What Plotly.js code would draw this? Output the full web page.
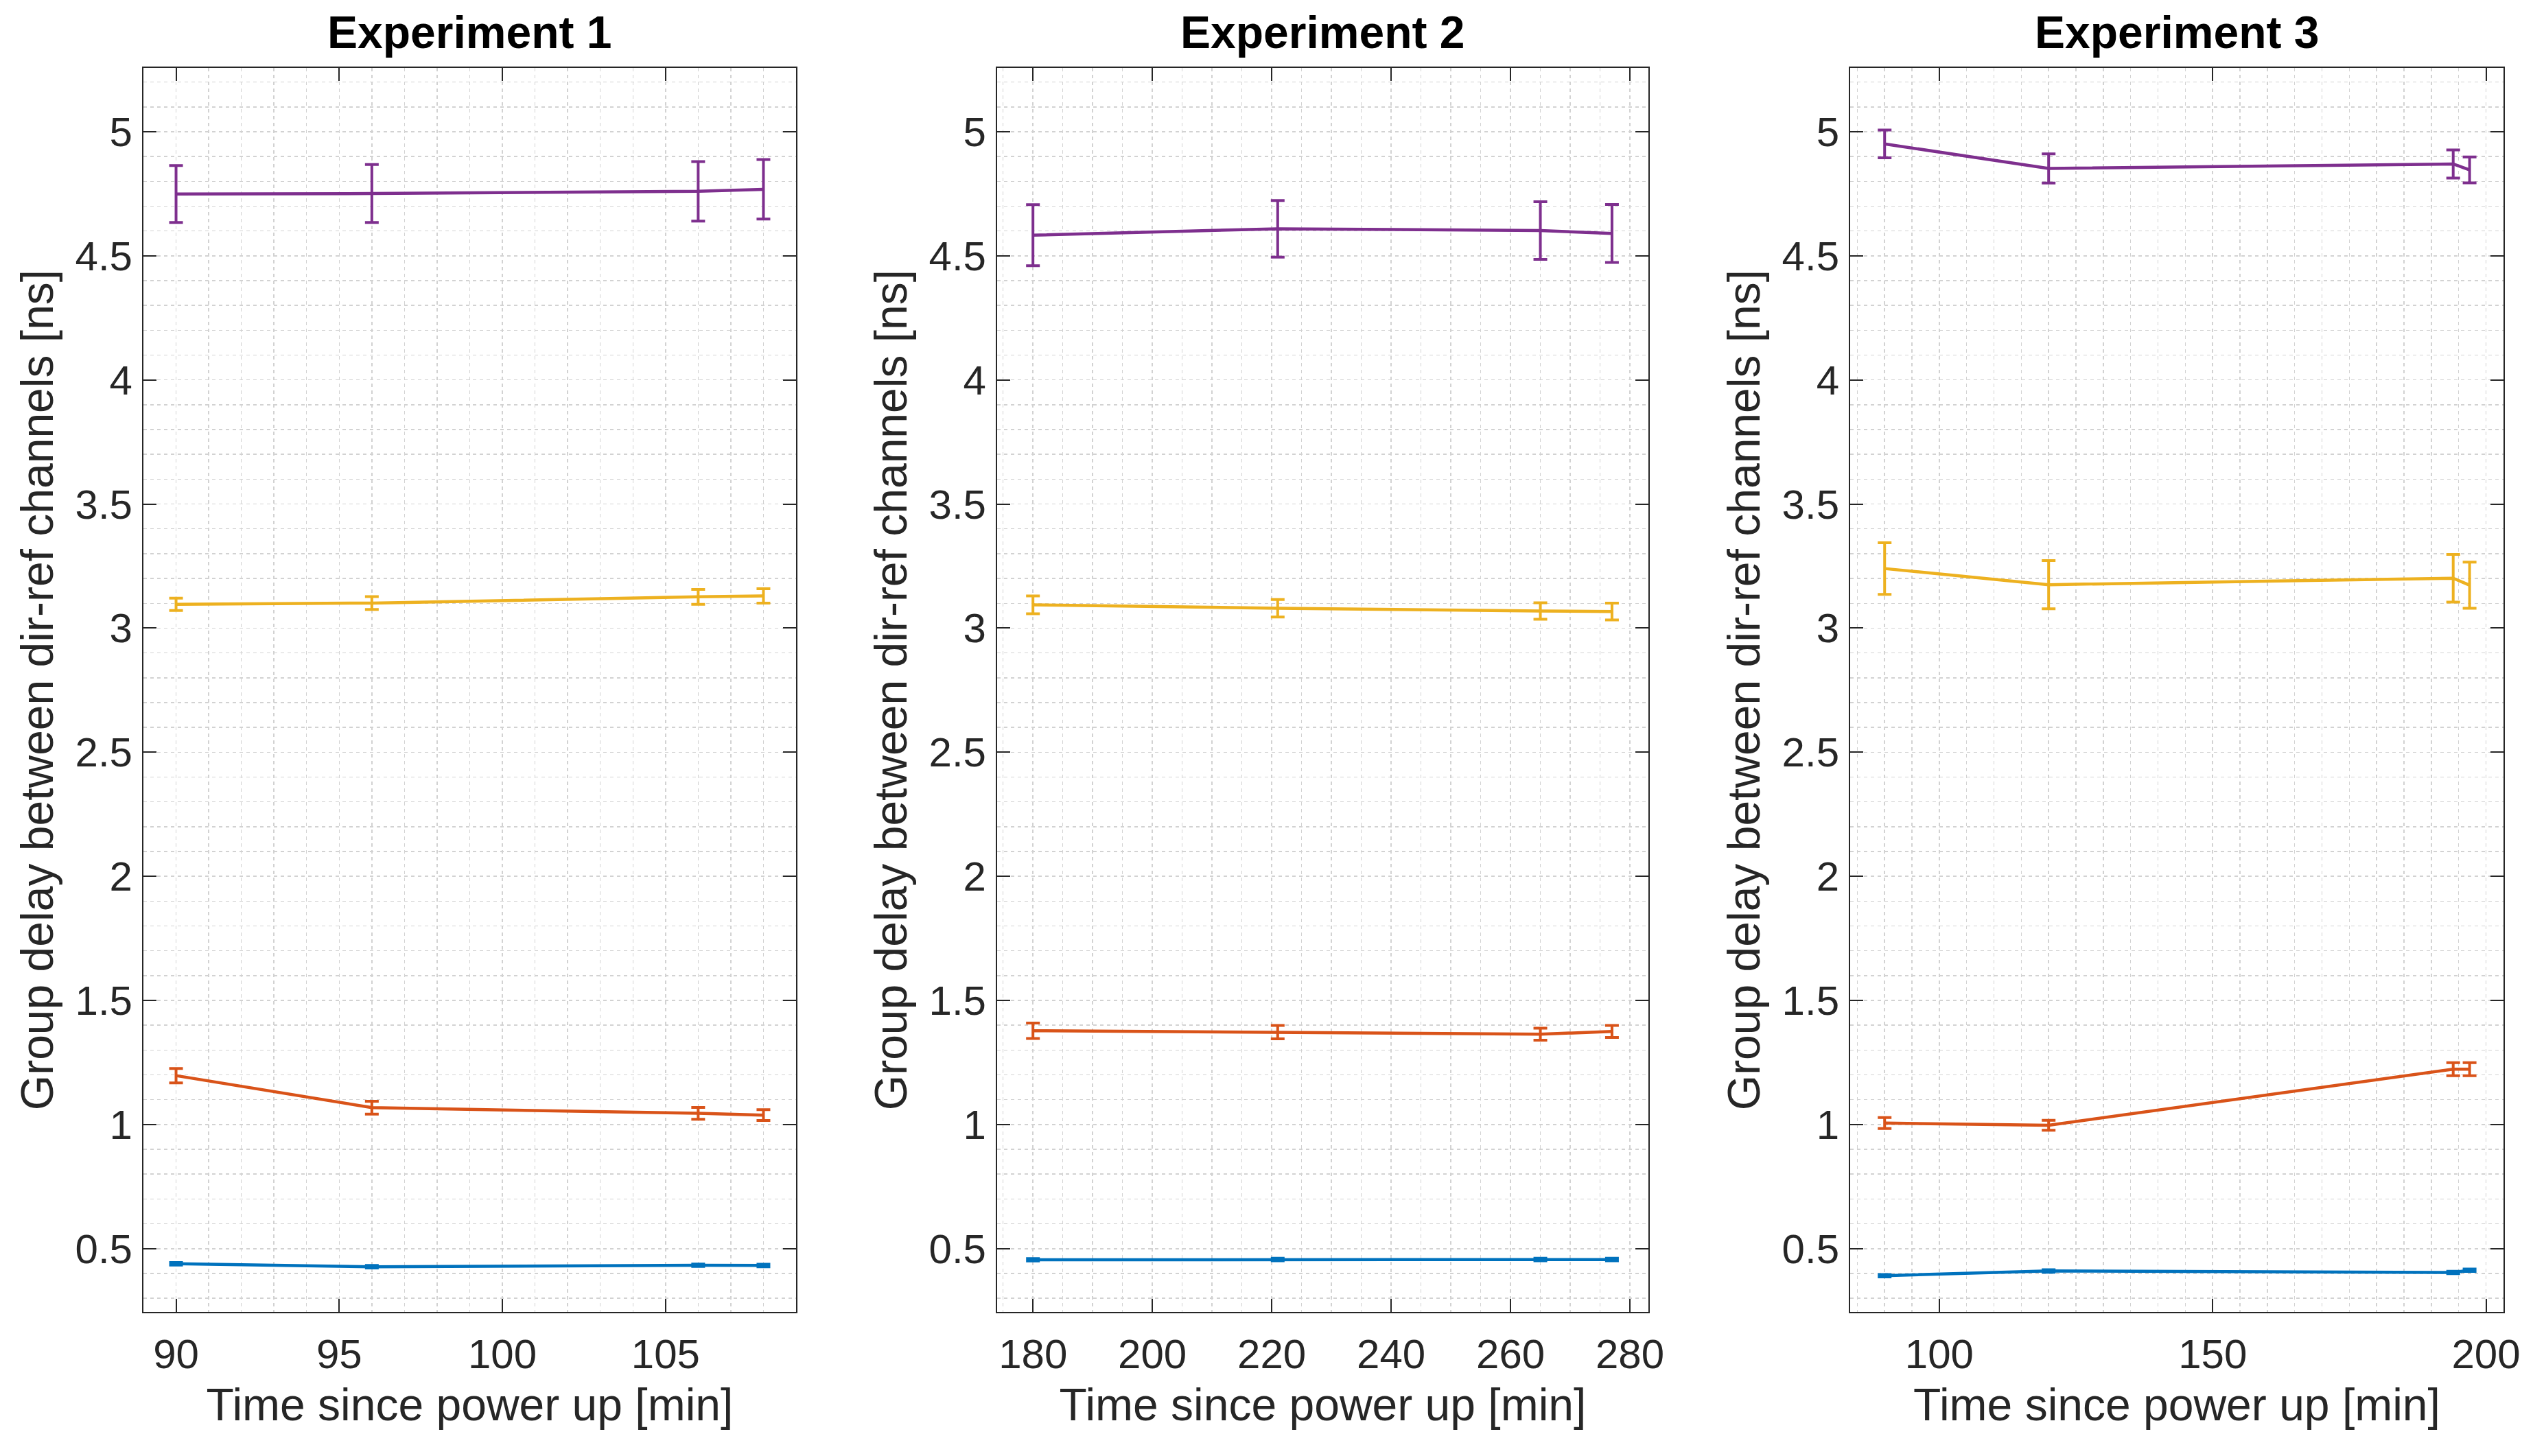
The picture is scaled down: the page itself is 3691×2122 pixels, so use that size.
<!DOCTYPE html>
<html>
<head>
<meta charset="utf-8">
<script src="https://cdn.plot.ly/plotly-3.0.1.min.js"></script>
<style>
html,body{margin:0;padding:0;background:#fff;}
#chart{width:3691px;height:2122px;}
</style>
</head>
<body>
<div id="chart"></div>
<script>
// ---------- data ----------
const experimentTitles = ["Experiment 1", "Experiment 2", "Experiment 3"];
const xAxisTitle = "Time since power up [min]";
const yAxisTitle = "Group delay between dir-ref channels [ns]";

const exp1Time = [90, 96, 106, 108];
const exp2Time = [180, 221, 265, 277];
const exp3Time = [90, 120, 194, 197];

const exp1Blue   = [0.439, 0.427, 0.433, 0.432];
const exp1BlueErr = [0.005, 0.005, 0.005, 0.005];
const exp1Orange = [1.197, 1.068, 1.045, 1.038];
const exp1OrangeErr = [0.029, 0.026, 0.024, 0.022];
const exp1Yellow = [3.096, 3.101, 3.126, 3.130];
const exp1YellowErr = [0.025, 0.026, 0.030, 0.029];
const exp1Purple = [4.749, 4.751, 4.760, 4.768];
const exp1PurpleErr = [0.115, 0.117, 0.120, 0.120];

const exp2Blue   = [0.455, 0.456, 0.456, 0.456];
const exp2BlueErr = [0.005, 0.005, 0.005, 0.005];
const exp2Orange = [1.378, 1.372, 1.364, 1.375];
const exp2OrangeErr = [0.031, 0.027, 0.024, 0.024];
const exp2Yellow = [3.094, 3.080, 3.069, 3.067];
const exp2YellowErr = [0.036, 0.035, 0.033, 0.034];
const exp2Purple = [4.583, 4.609, 4.602, 4.590];
const exp2PurpleErr = [0.123, 0.114, 0.116, 0.117];

const exp3Blue   = [0.391, 0.410, 0.404, 0.413];
const exp3BlueErr = [0.005, 0.005, 0.005, 0.005];
const exp3Orange = [1.006, 0.997, 1.223, 1.223];
const exp3OrangeErr = [0.022, 0.020, 0.026, 0.026];
const exp3Yellow = [3.240, 3.175, 3.201, 3.173];
const exp3YellowErr = [0.104, 0.097, 0.096, 0.093];
const exp3Purple = [4.951, 4.852, 4.870, 4.846];
const exp3PurpleErr = [0.056, 0.059, 0.057, 0.052];

const yTickVals = [0.5, 1, 1.5, 2, 2.5, 3, 3.5, 4, 4.5, 5];
const yTickText = ["0.5", "1", "1.5", "2", "2.5", "3", "3.5", "4", "4.5", "5"];
const exp1XTicks = [90, 95, 100, 105];
const exp2XTicks = [180, 200, 220, 240, 260, 280];
const exp3XTicks = [100, 150, 200];

// ---------- styling ----------
const seriesColors = ["#0072BD", "#D95319", "#EDB120", "#7E2F8E"];
const FONT = "Liberation Sans, Arial, Helvetica, sans-serif";
const AX = "#262626";
const GRID = "#d2d2d2";

const experiments = [
  {time: exp1Time, series: [[exp1Blue, exp1BlueErr], [exp1Orange, exp1OrangeErr], [exp1Yellow, exp1YellowErr], [exp1Purple, exp1PurpleErr]]},
  {time: exp2Time, series: [[exp2Blue, exp2BlueErr], [exp2Orange, exp2OrangeErr], [exp2Yellow, exp2YellowErr], [exp2Purple, exp2PurpleErr]]},
  {time: exp3Time, series: [[exp3Blue, exp3BlueErr], [exp3Orange, exp3OrangeErr], [exp3Yellow, exp3YellowErr], [exp3Purple, exp3PurpleErr]]}
];

const traces = [];
experiments.forEach((ex, i) => {
  const suffix = i === 0 ? "" : String(i + 1);
  ex.series.forEach((s, k) => {
    traces.push({
      type: "scatter", mode: "lines",
      x: ex.time, y: s[0],
      xaxis: "x" + suffix, yaxis: "y" + suffix,
      line: {color: seriesColors[k], width: 4.5},
      error_y: {type: "data", array: s[1], visible: true, color: seriesColors[k], thickness: 4, width: 10},
      showlegend: false, hoverinfo: "skip"
    });
  });
});

const xDomains = [[0.05662, 0.31428], [0.39366, 0.65077], [0.73043, 0.98835]];
const yDomain = [0.09896, 0.95334];
const xRanges = [[89, 109], [174, 283.1], [83.7, 203.2]];
const xTickSets = [exp1XTicks, exp2XTicks, exp3XTicks];
const xMinor = [1, 5, 5];

function baseAxis() {
  return {
    showline: true, linecolor: AX, linewidth: 2, mirror: "ticks",
    ticks: "inside", ticklen: 19, tickwidth: 2, tickcolor: AX,
    tickfont: {family: FONT, size: 60, color: AX},
    showgrid: true, gridcolor: GRID, gridwidth: 1.5, griddash: "5px,5px",
    zeroline: false, fixedrange: true
  };
}

const layout = {
  width: 3691, height: 2122,
  margin: {l: 0, r: 0, t: 0, b: 0},
  paper_bgcolor: "#ffffff", plot_bgcolor: "#ffffff",
  showlegend: false,
  annotations: []
};

for (let i = 0; i < 3; i++) {
  const suffix = i === 0 ? "" : String(i + 1);
  const xa = Object.assign(baseAxis(), {
    domain: xDomains[i], range: xRanges[i], anchor: "y" + suffix,
    tickmode: "array", tickvals: xTickSets[i], ticktext: xTickSets[i].map(String),
    minor: {dtick: xMinor[i], tick0: 0, showgrid: true, gridcolor: GRID, gridwidth: 1.5, griddash: "5px,5px", ticks: ""},
    ticklabelstandoff: 8,
    title: {text: xAxisTitle, font: {family: FONT, size: 66, color: AX}, standoff: 18}
  });
  const ya = Object.assign(baseAxis(), {
    domain: yDomain, range: [0.245, 5.257], anchor: "x" + suffix,
    tickmode: "array", tickvals: yTickVals, ticktext: yTickText,
    minor: {dtick: 0.1, tick0: 0, showgrid: true, gridcolor: GRID, gridwidth: 1.5, griddash: "5px,5px", ticks: ""},
    ticklabelstandoff: 2,
    title: {text: yAxisTitle, font: {family: FONT, size: 66, color: AX}, standoff: 10}
  });
  layout["xaxis" + suffix] = xa;
  layout["yaxis" + suffix] = ya;
  layout.annotations.push({
    text: "<b>" + experimentTitles[i] + "</b>",
    xref: "paper", yref: "paper",
    x: (xDomains[i][0] + xDomains[i][1]) / 2, y: 0.9779,
    xanchor: "center", yanchor: "middle", showarrow: false,
    font: {family: FONT, size: 66, color: "#000000"}
  });
}

Plotly.newPlot("chart", traces, layout, {staticPlot: true, displayModeBar: false});
</script>
</body>
</html>
